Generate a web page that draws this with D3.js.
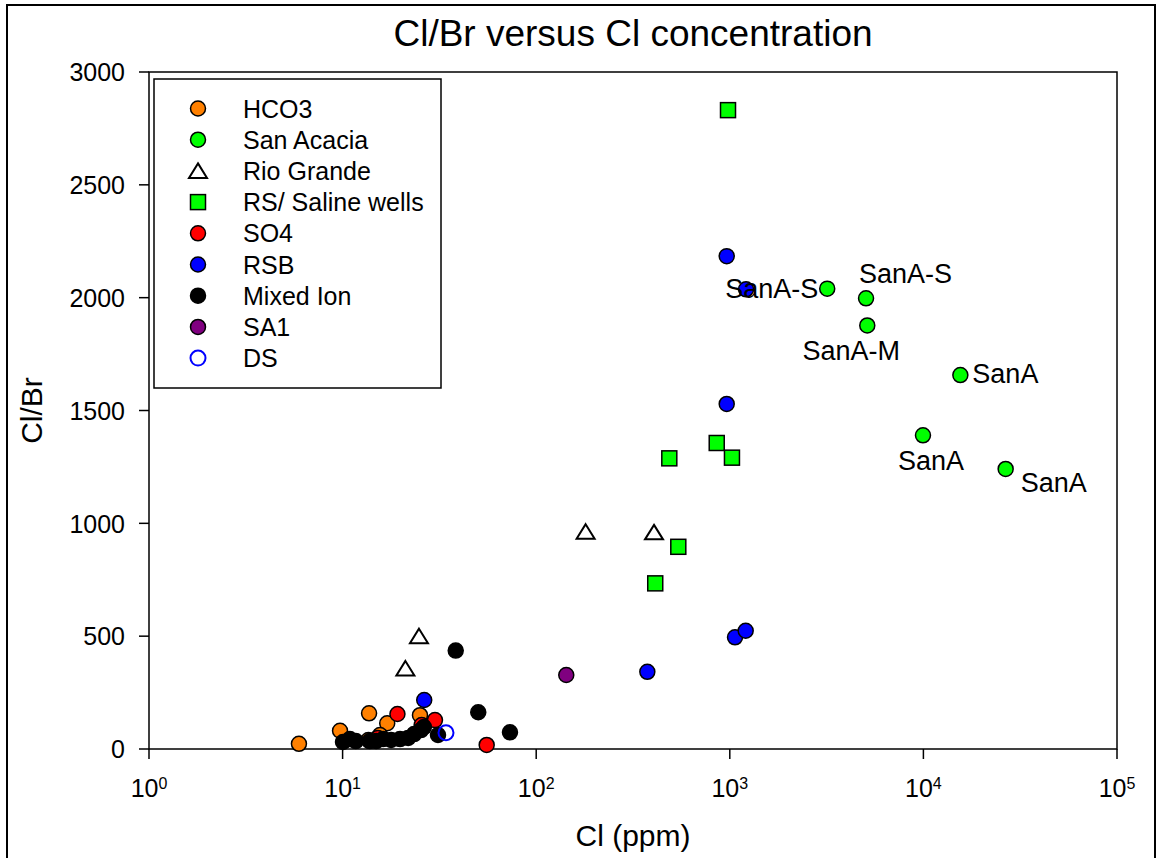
<!DOCTYPE html>
<html><head><meta charset="utf-8">
<script src="https://cdn.jsdelivr.net/npm/d3@7"></script>
<style>body{margin:0;background:#fff}svg{display:block}text{font-family:"Liberation Sans",Arial,sans-serif;fill:#000}</style>
</head><body><svg id="c" width="1157" height="858"></svg>
<script>
// ---- data ----
const seriesNames = ["HCO3","San Acacia","Rio Grande","RS/ Saline wells","SO4","RSB","Mixed Ion","SA1","DS"];
const hco3X = [5.95, 9.7, 13.7, 17.0, 13.6, 25.1, 15.6];
const hco3Y = [23, 81, 158, 114, 40, 150, 62];
const sanAcaciaX = [3186, 5055, 5130, 15520, 9950, 26600];
const sanAcaciaY = [2040, 1997, 1877, 1657, 1390, 1241];
const sanAcaciaLabels = ["SanA-S", "SanA-S", "SanA-M", "SanA", "SanA", "SanA"];
const rioX = [24.8, 21.1, 180, 406];
const rioY = [500, 357, 963, 960];
const rsX = [979, 856, 1026, 487, 542, 412];
const rsY = [2831, 1356, 1291, 1288, 896, 734];
const so4X = [19.2, 30.0, 25.6, 55.5, 15.2];
const so4Y = [155, 128, 106, 18, 49];
const rsbX = [26.4, 375, 1064, 1208, 964, 1213, 964];
const rsbY = [217, 342, 495, 524, 2184, 2037, 1529];
const mixedX = [10.05, 10.9, 11.7, 13.8, 14.9, 16.2, 17.8, 19.8, 21.8, 23.4, 25.4, 26.3, 31.1, 38.4, 50.2, 73.2];
const mixedY = [31, 44, 35, 35, 35, 44, 40, 44, 49, 66, 84, 97, 62, 436, 163, 74];
const sa1X = [143];
const sa1Y = [328];
const dsX = [34.2];
const dsY = [72];
const yTicks = [0, 500, 1000, 1500, 2000, 2500, 3000];
const xTickExps = [0, 1, 2, 3, 4, 5];
const titleText = "Cl/Br versus Cl concentration";
const xLabel = "Cl (ppm)";
const yLabel = "Cl/Br";

// ---- styles ----
const styles = [
  {shape:"circle", fill:"#ff8000", stroke:"#000"},
  {shape:"circle", fill:"#00ff00", stroke:"#000"},
  {shape:"triangle", fill:"#fff", stroke:"#000"},
  {shape:"square", fill:"#00ff00", stroke:"#000"},
  {shape:"circle", fill:"#ff0000", stroke:"#000"},
  {shape:"circle", fill:"#0000ff", stroke:"#000"},
  {shape:"circle", fill:"#000000", stroke:"#000"},
  {shape:"circle", fill:"#800080", stroke:"#000"},
  {shape:"circle", fill:"none", stroke:"#0000ff"}
];
const seriesX = [hco3X, sanAcaciaX, rioX, rsX, so4X, rsbX, mixedX, sa1X, dsX];
const seriesY = [hco3Y, sanAcaciaY, rioY, rsY, so4Y, rsbY, mixedY, sa1Y, dsY];
// label offsets relative to the point (dx, dy, anchor)
const labelLayout = [[-9, 9, "end"], [-7, -15, "start"], [-16, 35, "middle"], [12, 8, "start"], [-25, 35, "start"], [15, 23, "start"]];

const svg = d3.select("#c");
const L = 149, R = 1117, T = 72, B = 749;
const x = d3.scaleLog().domain([1, 1e5]).range([L, R]);
const y = d3.scaleLinear().domain([0, 3000]).range([B, T]);

// outer border
svg.append("rect").attr("x", 7).attr("y", 5).attr("width", 1148).attr("height", 900)
  .attr("fill", "none").attr("stroke", "#000").attr("stroke-width", 2);

// title
svg.append("text").attr("x", (L + R) / 2).attr("y", 46).attr("text-anchor", "middle")
  .attr("font-size", 37).text(titleText);

// frame
svg.append("rect").attr("x", L).attr("y", T).attr("width", R - L).attr("height", B - T)
  .attr("fill", "none").attr("stroke", "#000").attr("stroke-width", 1.5);

// y axis
const yAxis = svg.append("g");
yAxis.selectAll("line").data(yTicks).join("line")
  .attr("x1", L - 10).attr("x2", L).attr("y1", d => y(d)).attr("y2", d => y(d))
  .attr("stroke", "#000").attr("stroke-width", 1.5);
yAxis.selectAll("text").data(yTicks).join("text")
  .attr("x", 125).attr("y", d => y(d) + 9.3).attr("text-anchor", "end")
  .attr("font-size", 25).text(d => d);

// x axis
const xAxis = svg.append("g");
xAxis.selectAll("line").data(xTickExps).join("line")
  .attr("x1", d => x(Math.pow(10, d))).attr("x2", d => x(Math.pow(10, d)))
  .attr("y1", B).attr("y2", B + 10).attr("stroke", "#000").attr("stroke-width", 1.5);
const xt = xAxis.selectAll("text").data(xTickExps).join("text")
  .attr("x", d => x(Math.pow(10, d))).attr("y", 797).attr("text-anchor", "middle")
  .attr("font-size", 25);
xt.append("tspan").text("10");
xt.append("tspan").attr("font-size", 16).attr("dy", -8.5).text(d => d);

// axis labels
svg.append("text").attr("x", (L + R) / 2).attr("y", 846).attr("text-anchor", "middle")
  .attr("font-size", 30).text(xLabel);
svg.append("text").attr("transform", `translate(42,${(T + B) / 2}) rotate(-90)`)
  .attr("text-anchor", "middle").attr("font-size", 30).text(yLabel);

// markers
function drawMarker(g, st, cx, cy) {
  if (st.shape === "circle") {
    g.append("circle").attr("cx", cx).attr("cy", cy).attr("r", 7.5)
      .attr("fill", st.fill).attr("stroke", st.stroke).attr("stroke-width", st.fill === "none" ? 2 : 1.5);
  } else if (st.shape === "square") {
    g.append("rect").attr("x", cx - 7.5).attr("y", cy - 7.5).attr("width", 15).attr("height", 15)
      .attr("fill", st.fill).attr("stroke", st.stroke).attr("stroke-width", 1.5);
  } else {
    g.append("path").attr("d", `M${cx},${cy - 7.5}L${cx + 9},${cy + 7}L${cx - 9},${cy + 7}Z`)
      .attr("fill", st.fill).attr("stroke", st.stroke).attr("stroke-width", 2).attr("stroke-linejoin", "miter");
  }
}
const pts = svg.append("g");
seriesX.forEach((xs, si) => {
  xs.forEach((v, i) => drawMarker(pts, styles[si], x(v), y(seriesY[si][i])));
});

// point labels
const lab = svg.append("g");
sanAcaciaLabels.forEach((t, i) => {
  const [dx, dy, anc] = labelLayout[i];
  lab.append("text").attr("x", x(sanAcaciaX[i]) + dx).attr("y", y(sanAcaciaY[i]) + dy)
    .attr("text-anchor", anc).attr("font-size", 27).text(t);
});

// legend
const lg = svg.append("g");
lg.append("rect").attr("x", 154).attr("y", 79).attr("width", 287).attr("height", 309)
  .attr("fill", "#fff").attr("stroke", "#000").attr("stroke-width", 1.5);
seriesNames.forEach((n, i) => {
  const cy = 108.5 + i * 31.2;
  drawMarker(lg, styles[i], 198, cy);
  lg.append("text").attr("x", 243).attr("y", cy + 9).attr("font-size", 25).text(n);
});
</script></body></html>
